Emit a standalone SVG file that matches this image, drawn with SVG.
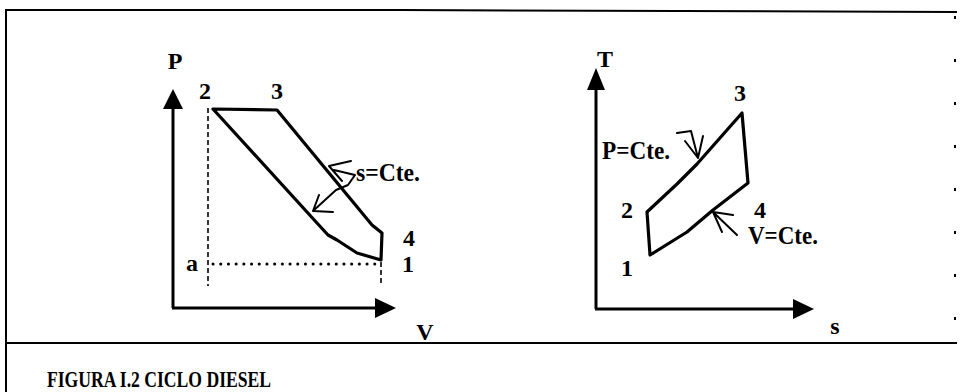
<svg xmlns="http://www.w3.org/2000/svg" width="961" height="392" viewBox="0 0 961 392">
<defs>
<style>
text{font-family:"Liberation Serif","Times New Roman","DejaVu Serif",serif;font-weight:bold;fill:#000}
.lbl{font-size:24px}
.cte{font-size:25px}
.axis{stroke:#000;stroke-width:3;fill:none}
.cyc{stroke:#000;stroke-width:3.2;fill:none;stroke-linejoin:round;stroke-linecap:round}
.thin{stroke:#000;stroke-width:2;fill:none;stroke-linecap:round;stroke-linejoin:round}
.dash{stroke:#000;stroke-width:1.6;stroke-dasharray:5,3;fill:none}
.dot{stroke:#000;stroke-width:3;stroke-dasharray:0.1,7.6;stroke-linecap:round;fill:none}
.frame{stroke:#000;stroke-width:2;fill:none}
</style>
</defs>
<rect width="961" height="392" fill="#fff"/>
<g id="frame">
<line class="frame" x1="6" y1="9" x2="6" y2="392"/>
<path class="frame" d="M6,10 L400,10 L957,12"/>
<line class="frame" x1="6" y1="343" x2="957" y2="343"/>
<line x1="955" y1="16" x2="955" y2="336" stroke="#000" stroke-width="2" stroke-dasharray="3,40"/>
</g>
<g id="pv-diagram" font-family="Liberation Serif, serif">
<line class="axis" x1="173" y1="106" x2="173" y2="308"/>
<line class="axis" x1="172" y1="308" x2="378" y2="308"/>
<polygon points="173,89 163,109 183,109" fill="#000"/>
<polygon points="396,308 375,298 375,318" fill="#000"/>
<line class="dash" x1="208" y1="108" x2="208" y2="286"/>
<line class="dash" x1="381" y1="262" x2="381" y2="284"/>
<line class="dot" x1="213" y1="264" x2="378" y2="264"/>
<path class="cyc" d="M213,109 L277,110 L372,225 L382,233 L381,260 L357,253 L337,240 L328,235 L317,223 Z"/>
<path class="thin" d="M351,161 L329,166 L342,181 M334,170 L355,175 L348,185 L336,190 L313,211 M319,195 L313,211 L333,212"/>
<text class="lbl" x="175" y="69" text-anchor="middle">P</text>
<text class="lbl" x="205" y="99" text-anchor="middle">2</text>
<text class="lbl" x="277" y="99" text-anchor="middle">3</text>
<text class="lbl" x="409" y="246" text-anchor="middle">4</text>
<text class="lbl" x="408" y="272" text-anchor="middle">1</text>
<text class="lbl" x="192" y="271" text-anchor="middle">a</text>
<text class="lbl" x="425" y="340" text-anchor="middle">V</text>
<text class="cte" x="356" y="181" textLength="64" lengthAdjust="spacingAndGlyphs">s=Cte.</text>
</g>
<g id="ts-diagram" font-family="Liberation Serif, serif">
<line class="axis" x1="596" y1="86" x2="596" y2="309"/>
<line class="axis" x1="595" y1="309" x2="795" y2="309"/>
<polygon points="596,68 587,90 605,90" fill="#000"/>
<polygon points="814,309 793,299 793,319" fill="#000"/>
<path class="cyc" d="M650,255 L647,212 L677,184 L697,164 L742,113 L748,183 L713,210 L687,232 Z"/>
<path class="thin" d="M677,133 L691,131 L698,158 M685,141 L698,158 L703,136 M733,215 L713,212 L722,232 M713,212 L737,235"/>
<text class="lbl" x="605" y="67" text-anchor="middle">T</text>
<text class="lbl" x="740" y="101" text-anchor="middle">3</text>
<text class="lbl" x="627" y="218" text-anchor="middle">2</text>
<text class="lbl" x="627" y="276" text-anchor="middle">1</text>
<text class="lbl" x="760" y="218" text-anchor="middle">4</text>
<text class="lbl" x="835" y="334" text-anchor="middle">s</text>
<text class="cte" x="602" y="159" textLength="68" lengthAdjust="spacingAndGlyphs">P=Cte.</text>
<text class="cte" x="748" y="244" textLength="70" lengthAdjust="spacingAndGlyphs">V=Cte.</text>
</g>
<g id="caption" font-family="Liberation Serif, serif">
<text x="47" y="387" font-size="23" textLength="224" lengthAdjust="spacingAndGlyphs">FIGURA I.2 CICLO DIESEL</text>
</g>
</svg>
